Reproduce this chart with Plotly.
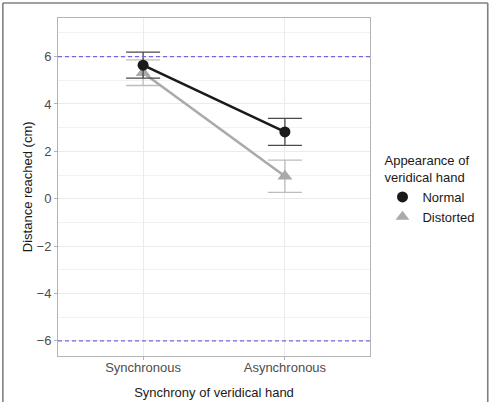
import plotly.graph_objects as go

categories = ["Synchronous", "Asynchronous"]
cat_pos = [1, 2]
normal_mean = [5.64, 2.82]
normal_err = [0.55, 0.57]
distorted_mean = [5.32, 0.95]
distorted_err = [0.54, 0.68]
y_ticks = [-6, -4, -2, 0, 2, 4, 6]
ref_lines = [6, -6]

FONT = "Liberation Sans, Arial, Helvetica, sans-serif"

fig = go.Figure()

fig.add_trace(go.Scatter(
    x=cat_pos, y=distorted_mean, name="Distorted", mode="lines+markers", showlegend=False,
    line=dict(color="#aaaaaa", width=2.6),
    marker=dict(symbol="triangle-up", size=13, color="#aaaaaa"),
    error_y=dict(type="data", array=distorted_err, color="#bdbdbd", thickness=1.3, width=17),
))
fig.add_trace(go.Scatter(
    x=cat_pos, y=normal_mean, name="Normal", mode="lines+markers", showlegend=False,
    line=dict(color="#1a1a1a", width=2.6),
    marker=dict(symbol="circle", size=11, color="#1a1a1a"),
    error_y=dict(type="data", array=normal_err, color="#4a4a4a", thickness=1.3, width=17),
))
# legend entries (markers only)
fig.add_trace(go.Scatter(x=[None], y=[None], name="Normal", mode="markers",
                         marker=dict(symbol="circle", size=11, color="#1a1a1a")))
fig.add_trace(go.Scatter(x=[None], y=[None], name="Distorted", mode="markers",
                         marker=dict(symbol="triangle-up", size=12, color="#aaaaaa")))

for v in ref_lines:
    fig.add_hline(y=v, line=dict(color="#7766dd", width=1.4, dash="4px,3px"))

# outer frame (three visible sides)
px_x = lambda p: (p - 58) / 314
px_y = lambda p: (356 - p) / 338
frame = dict(color="#808080", width=1.6)
fig.add_shape(type="line", xref="paper", yref="paper", x0=px_x(2.5), x1=px_x(490.5),
              y0=px_y(3), y1=px_y(3), line=frame)
fig.add_shape(type="line", xref="paper", yref="paper", x0=px_x(2.5), x1=px_x(2.5),
              y0=px_y(3), y1=px_y(410), line=frame)
fig.add_shape(type="line", xref="paper", yref="paper", x0=px_x(490.5), x1=px_x(490.5),
              y0=px_y(3), y1=px_y(410), line=frame)

# y-axis title as annotation
fig.add_annotation(text="Distance reached (cm)", textangle=-90,
                   xref="paper", yref="paper", x=px_x(27), y=0.5,
                   xanchor="center", yanchor="middle", showarrow=False,
                   font=dict(size=13, color="#1a1a1a"))

fig.update_layout(
    width=493, height=402,
    margin=dict(l=58, r=121, t=18, b=46),
    paper_bgcolor="white", plot_bgcolor="white",
    font=dict(family=FONT, size=13, color="#1a1a1a"),
    showlegend=True,
    legend=dict(
        title=dict(text="Appearance of<br>veridical hand", font=dict(size=13, color="#1a1a1a")),
        x=1.04, xanchor="left", y=0.615, yanchor="top",
        font=dict(size=13, color="#1a1a1a"),
        itemwidth=30, tracegroupgap=0,
        bgcolor="rgba(0,0,0,0)",
    ),
    xaxis=dict(
        range=[0.4, 2.6], tickvals=cat_pos, ticktext=categories, automargin=False,
        showgrid=True, gridcolor="#ebebeb", gridwidth=1,
        zeroline=False, showline=True, linecolor="#b3b3b3", linewidth=1, mirror=True,
        ticks="outside", ticklen=3, tickcolor="#b3b3b3", ticklabelstandoff=-4,
        tickfont=dict(size=13, color="#4d4d4d"),
        title=dict(text="Synchrony of veridical hand", font=dict(size=13, color="#1a1a1a"), standoff=14),
    ),
    yaxis=dict(
        range=[-6.64, 7.63], tickvals=y_ticks, automargin=False,
        showgrid=True, gridcolor="#ebebeb", gridwidth=1,
        minor=dict(tickvals=[-5, -3, -1, 1, 3, 5, 7], showgrid=True, gridcolor="#f2f2f2", gridwidth=1),
        zeroline=False, showline=True, linecolor="#b3b3b3", linewidth=1, mirror=True,
        ticks="outside", ticklen=3, tickcolor="#b3b3b3",
        tickfont=dict(size=13, color="#4d4d4d"),
    ),
)

fig.write_html("out.html")
